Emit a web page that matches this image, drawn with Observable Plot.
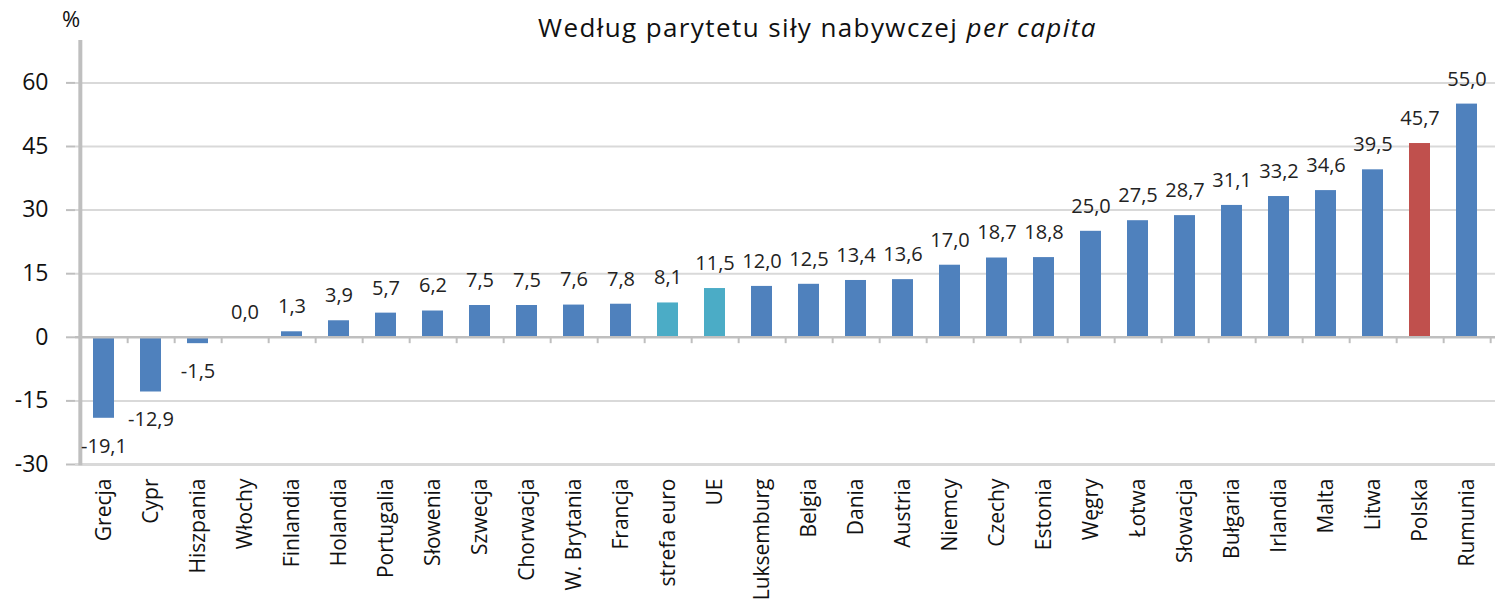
<!DOCTYPE html>
<html>
<head>
<meta charset="utf-8">
<script src="https://cdn.jsdelivr.net/npm/d3@7"></script>
<script src="https://cdn.jsdelivr.net/npm/@observablehq/plot@0.6"></script>
<style>
  html, body { margin: 0; padding: 0; background: #fff; }
  #wrap { position: relative; width: 1495px; height: 604px; overflow: hidden; font-family: "Open Sans", sans-serif; }
  #title { position: absolute; top: 9px; left: 538px; white-space: nowrap; font-size: 26px; letter-spacing: 1.4px; color: #111; }
  #unit { position: absolute; top: 3px; left: 62px; font-size: 22px; color: #111; }
</style>
</head>
<body>
<div id="wrap">
  <div id="chart"></div>
  <div id="title">Według parytetu siły nabywczej <i>per capita</i></div>
  <div id="unit">%</div>
</div>
<script>
const countries = ["Grecja","Cypr","Hiszpania","Włochy","Finlandia","Holandia","Portugalia","Słowenia","Szwecja","Chorwacja","W. Brytania","Francja","strefa euro","UE","Luksemburg","Belgia","Dania","Austria","Niemcy","Czechy","Estonia","Węgry","Łotwa","Słowacja","Bułgaria","Irlandia","Malta","Litwa","Polska","Rumunia"];
const values = [-19.1,-12.9,-1.5,0.0,1.3,3.9,5.7,6.2,7.5,7.5,7.6,7.8,8.1,11.5,12.0,12.5,13.4,13.6,17.0,18.7,18.8,25.0,27.5,28.7,31.1,33.2,34.6,39.5,45.7,55.0];
const groups = countries.map(c => c === "Polska" ? "pl" : (c === "strefa euro" || c === "UE") ? "eu" : "other");
const yTicks = [-30,-15,0,15,30,45,60];
const gridTicks = [-15,15,30,45,60];

const data = countries.map((c, i) => ({country: c, value: values[i], group: groups[i]}));
const fmt = v => v.toFixed(1).replace(".", ",");

const W = 1495, H = 604, ML = 75, MR = 0, MT = 40, MB = 140;
const step = (W - ML - MR) / countries.length;

const chart = Plot.plot({
  width: W, height: H,
  marginLeft: ML, marginRight: MR, marginTop: MT, marginBottom: MB,
  style: {fontFamily: "'Open Sans', sans-serif", background: "#fff"},
  x: {domain: countries, paddingInner: 0.56, paddingOuter: 0.28, label: null},
  y: {domain: [-30, 70], label: null},
  color: {domain: ["other","eu","pl"], range: ["#4F81BD","#4BACC6","#C0504D"]},
  marks: [
    Plot.ruleY(gridTicks, {stroke: "#d9d9d9", strokeWidth: 2}),
    Plot.ruleY([-30], {stroke: "#d9d9d9", strokeWidth: 3}),
    Plot.barY(data, {x: "country", y: "value", fill: "group"}),
    Plot.ruleY([0], {stroke: "#bfbfbf", strokeWidth: 2.5}),
    Plot.ruleX(countries, {x: d => d, y1: 0, y2: -1.5, dx: step / 2, stroke: "#bfbfbf", strokeWidth: 2}),
    Plot.ruleX([countries[0]], {x: d => d, y1: -30.3, y2: 70, dx: -step / 2, stroke: "#bfbfbf", strokeWidth: 4}),
    Plot.text(data.filter(d => d.value >= 0), {x: "country", y: "value", text: d => fmt(d.value), dy: -25, fontSize: 20, letterSpacing: 0.8, fill: "#222"}),
    Plot.text(data.filter(d => d.value < 0), {x: "country", y: "value", text: d => fmt(d.value), dy: 28, fontSize: 20, letterSpacing: 0.8, fill: "#222"}),
    Plot.axisY(yTicks, {tickSize: 9, tickPadding: 18, fontSize: 23, stroke: "#bfbfbf", strokeWidth: 2, tickFormat: d => String(d), fill: "#111", label: null}),
    Plot.axisX({anchor: "bottom", tickSize: 0, tickPadding: 14, tickRotate: -90, fontSize: 21, fill: "#111", label: null})
  ]
});
document.getElementById("chart").appendChild(chart);
</script>
</body>
</html>
